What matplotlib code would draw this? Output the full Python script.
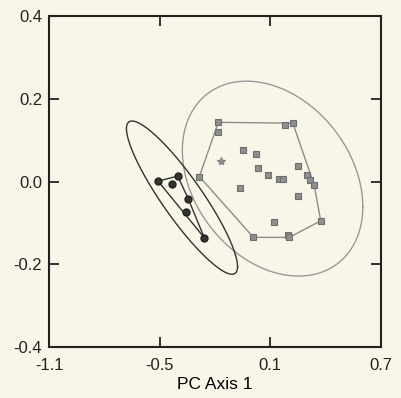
# PCA scatter with convex hulls and ellipses

import numpy as np
import matplotlib
matplotlib.use("Agg")
from matplotlib import pyplot as plt

# Group A (dark circles), PC1 / PC2 scores
a_x = [-0.509, -0.402, -0.433, -0.345, -0.357, -0.258]
a_y = [0.001, 0.013, -0.006, -0.042, -0.074, -0.136]

# Group B (gray squares)
b_x = [-0.182, -0.182, 0.180, 0.222, -0.050, 0.023, 0.249, 0.032, -0.285, 0.089,
       0.149, 0.171, 0.298, 0.315, 0.337, -0.064, 0.249, 0.373, 0.120, 0.008,
       0.198, 0.203]
b_y = [0.143, 0.119, 0.137, 0.141, 0.076, 0.066, 0.038, 0.033, 0.012, 0.016,
       0.007, 0.007, 0.016, 0.004, -0.008, -0.015, -0.034, -0.095, -0.099, -0.135,
       -0.129, -0.135]

# single starred specimen
star_x = [-0.167]
star_y = [0.050]

# ellipses: centre and shape matrix (data units)
ell_a_center = [-0.379, -0.039]
ell_a_shape = [[0.0907, -0.0502], [-0.0502, 0.0343]]
ell_b_center = [0.112, 0.007]
ell_b_shape = [[0.2393, -0.0332], [-0.0332, 0.0555]]

x_ticks = [-1.1, -0.5, 0.1, 0.7]
y_ticks = [-0.4, -0.2, 0.0, 0.2, 0.4]

bg = "#f8f6e8"
dark = "#333333"
gray = "#8c8c8c"


def _hull(xs, ys):
    """Convex hull (monotone chain), returns closed list of points"""
    pts = sorted(zip(xs, ys))

    def cross(o, a, b):
        return (a[0] - o[0]) * (b[1] - o[1]) - (a[1] - o[1]) * (b[0] - o[0])

    lower = []
    for p in pts:
        while len(lower) >= 2 and cross(lower[-2], lower[-1], p) <= 0:
            lower.pop()
        lower.append(p)
    upper = []
    for p in reversed(pts):
        while len(upper) >= 2 and cross(upper[-2], upper[-1], p) <= 0:
            upper.pop()
        upper.append(p)
    h = lower[:-1] + upper[:-1]
    h.append(h[0])
    return np.array(h)


def _ellipse(center, shape, n=200):
    t = np.linspace(0, 2 * np.pi, n)
    L = np.linalg.cholesky(np.array(shape))
    pts = L @ np.vstack([np.cos(t), np.sin(t)])
    return pts[0] + center[0], pts[1] + center[1]


plt.rcParams['font.family'] = ['Liberation Sans', 'DejaVu Sans']
fig = plt.figure(figsize=(4.02, 3.98), dpi=100, facecolor=bg)
ax = fig.add_axes([0.1219, 0.1281, 0.826, 0.8317], facecolor=bg)

ex, ey = _ellipse(ell_b_center, ell_b_shape)
ax.plot(ex, ey, color="#999999", lw=1.0)
ex, ey = _ellipse(ell_a_center, ell_a_shape)
ax.plot(ex, ey, color=dark, lw=1.0)

h = _hull(b_x, b_y)
ax.plot(h[:, 0], h[:, 1], color=gray, lw=1.0)
h = _hull(a_x, a_y)
ax.plot(h[:, 0], h[:, 1], color=dark, lw=1.0)

ax.plot(b_x, b_y, "s", color="#8e8e8e", mec="#6e6e6e", ms=5, mew=0.8, ls="none")
ax.plot(a_x, a_y, "o", color=dark, mec="#222222", ms=5, ls="none")
ax.plot(star_x, star_y, "*", color="#8a8a8a", ms=6, ls="none")

ax.set_xlim(-1.1, 0.7)
ax.set_ylim(-0.4, 0.4)
ax.set_xticks(x_ticks)
ax.set_yticks(y_ticks)
ax.set_xticklabels([str(v) for v in x_ticks])
ax.set_yticklabels(["-0.4", "-0.2", "0.0", "0.2", "0.4"])
ax.tick_params(direction="in", length=7, width=1.3, top=True, right=True,
               labelsize=12, colors="#222222")
ax.tick_params(axis="x", pad=8)
ax.tick_params(axis="y", pad=5)
for s in ax.spines.values():
    s.set_linewidth(1.5)
    s.set_color("#222222")
ax.set_xlabel("PC Axis 1", fontsize=12.5, labelpad=3)

plt.savefig("out.png", dpi=100, facecolor=bg)
plt.close()
